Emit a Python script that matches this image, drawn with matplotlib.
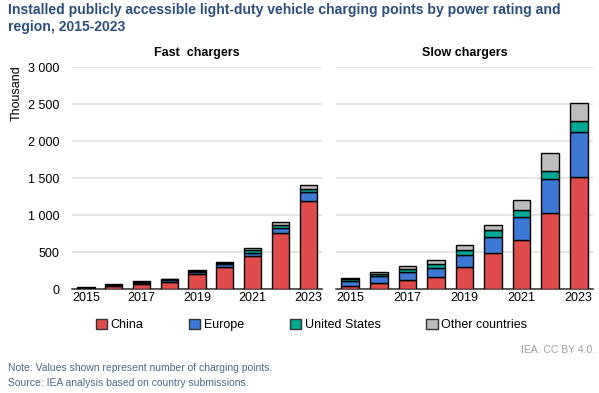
import matplotlib
matplotlib.use("Agg")
import matplotlib.pyplot as plt
from matplotlib.patches import Patch
import numpy as np

plt.rcParams['font.family'] = ['Liberation Sans', 'DejaVu Sans']

years = [2015, 2016, 2017, 2018, 2019, 2020, 2021, 2022, 2023]
regions = ["China", "Europe", "United States", "Other countries"]
colors = ["#E04B4B", "#3D78D4", "#00A896", "#BDBDBD"]

fast_china = [13, 40, 70, 100, 205, 300, 455, 760, 1200]
fast_europe = [6, 15, 20, 25, 30, 38, 42, 65, 113]
fast_us = [4, 8, 9, 12, 16, 17, 32, 45, 40]
fast_other = [4, 9, 9, 8, 10, 18, 33, 35, 52]

slow_china = [47, 88, 128, 164, 303, 492, 672, 1031, 1516]
slow_europe = [63, 94, 108, 130, 162, 220, 310, 458, 611]
slow_us = [23, 31, 40, 54, 67, 85, 89, 108, 144]
slow_other = [17, 23, 41, 50, 72, 72, 135, 243, 251]

yticks = [0, 500, 1000, 1500, 2000, 2500, 3000]
ytick_labels = ["0", "500", "1 000", "1 500", "2 000", "2 500", "3 000"]
xtick_years = [2015, 2017, 2019, 2021, 2023]

fig = plt.figure(figsize=(5.99, 3.93), dpi=100)
ax1 = fig.add_axes([72/599, 1-289.3/393, 250/599, 222/393])
ax2 = fig.add_axes([336/599, 1-289.3/393, 257/599, 222/393])

def draw(ax, series, title):
    x = np.arange(len(years))
    bottom = np.zeros(len(years))
    for vals, c in zip(series, colors):
        ax.bar(x, vals, bottom=bottom, width=0.62, color=c, edgecolor="black", linewidth=1.0, zorder=3)
        bottom += np.array(vals)
    ax.set_ylim(0, 3000)
    ax.set_xlim(-0.5, len(years) - 0.5)
    ax.set_yticks(yticks)
    ax.grid(axis="y", color="#E0E0E0", linewidth=1.2, zorder=0)
    for s in ["top", "right", "left"]:
        ax.spines[s].set_visible(False)
    ax.spines["bottom"].set_color("#404040")
    ax.spines["bottom"].set_linewidth(1.2)
    ax.set_xticks([years.index(y) for y in xtick_years])
    ax.set_xticklabels([str(y) for y in xtick_years], fontsize=9)
    ax.tick_params(axis="x", length=0, pad=2)
    ax.tick_params(axis="y", length=0)
    ax.set_title(title, fontsize=9, fontweight="bold", pad=8)

draw(ax1, [fast_china, fast_europe, fast_us, fast_other], "Fast  chargers")
draw(ax2, [slow_china, slow_europe, slow_us, slow_other], "Slow chargers")
ax1.set_yticklabels(ytick_labels, fontsize=9)
ax1.tick_params(axis="y", pad=9)
ax2.set_yticklabels([])

fig.text(17/599, 1-65/393, "Thousand", rotation=90, fontsize=9, ha="center", va="top")

fig.text(8/599, 1-3/393, "Installed publicly accessible light-duty vehicle charging points by power rating and\nregion, 2015-2023",
         fontsize=10.1, fontweight="bold", color="#2A4E7E", ha="left", va="top", linespacing=1.3)

handles = [Patch(facecolor=c, edgecolor="#333333", linewidth=1) for c in colors]
fig.legend(handles, regions, loc="center", bbox_to_anchor=(0.52, 1-325/393), ncol=4, frameon=False,
           fontsize=9, handlelength=0.9, handleheight=0.9, handletextpad=0.3, columnspacing=3.65)

fig.text(595/599, 1-350/393, "IEA. CC BY 4.0.", fontsize=7.5, color="#A0A0A0", ha="right", va="center")
fig.text(8/599, 1-368/393, "Note: Values shown represent number of charging points.", fontsize=7.5, color="#4A6A8E", ha="left", va="center")
fig.text(8/599, 1-383/393, "Source: IEA analysis based on country submissions.", fontsize=7.5, color="#4A6A8E", ha="left", va="center")

fig.savefig("out.png", dpi=100)
